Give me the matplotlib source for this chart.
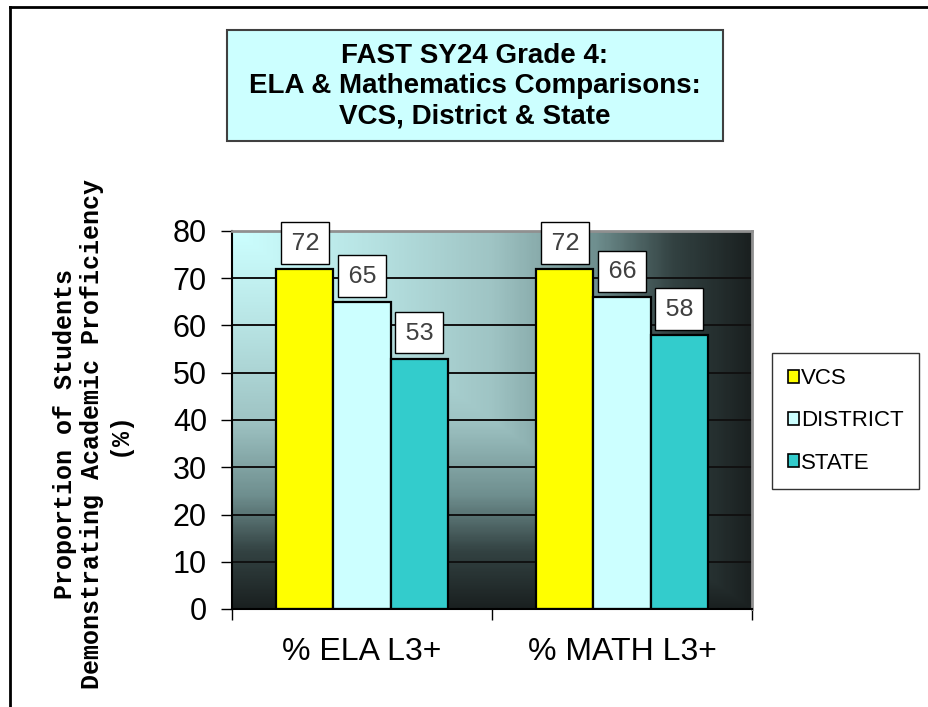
"""FAST SY24 Grade 4 comparison bars."""

import numpy as np
import matplotlib
matplotlib.use('Agg')
import matplotlib.pyplot as plt
from matplotlib.patches import Rectangle, Patch
from matplotlib.lines import Line2D
from matplotlib.colors import LinearSegmentedColormap

# =============================================================================
# Data
# =============================================================================
CATEGORIES = ['% ELA L3+', '% MATH L3+']
SERIES = ['VCS', 'DISTRICT', 'STATE']
VALUES = {
    'VCS': [72, 72],
    'DISTRICT': [65, 66],
    'STATE': [53, 58],
}
COLORS = {'VCS': '#ffff00', 'DISTRICT': '#ccffff', 'STATE': '#33cccc'}
YTICKS = [0, 10, 20, 30, 40, 50, 60, 70, 80]

TITLE = 'FAST SY24 Grade 4:\nELA & Mathematics Comparisons:\nVCS, District & State'
YLABEL = 'Proportion of Students\nDemonstrating Academic Proficiency\n(%)'

W, H = 929, 707

# =============================================================================
# Figure
# =============================================================================
fig = plt.figure(figsize=(W / 100, H / 100), dpi=100)
fig.patch.set_facecolor('white')

ax = fig.add_axes([232 / W, 1 - 609 / H, (752 - 232) / W, (609 - 231) / H])

# Corner gradient background (light top-left -> dark)
cmap = LinearSegmentedColormap.from_list('bg', [
    (0.0, '#ccffff'), (0.25, '#b8e4e4'), (0.5, '#9fc4c4'),
    (0.7, '#6f8f8f'), (0.85, '#334242'), (1.0, '#1a2020')])
u = np.linspace(0, 1, 300)
uu, ww = np.meshgrid(u, u)
t = np.maximum(uu, ww)
ax.imshow(t, cmap=cmap, extent=[0, 1, 0, 1], transform=ax.transAxes,
          aspect='auto', zorder=0, interpolation='bilinear')

# Gridlines
for y in YTICKS[1:]:
    ax.axhline(y, color='#111111', linewidth=1.4, zorder=1)

# Bars
x = np.arange(len(CATEGORIES))
width = 0.22
for i, name in enumerate(SERIES):
    xs = x + (i - 1) * width
    ax.bar(xs, VALUES[name], width=width, color=COLORS[name],
           edgecolor='black', linewidth=1.6, zorder=2)
    for xi, v in zip(xs, VALUES[name]):
        ax.annotate(str(v), xy=(xi, v), xytext=(0, 10), textcoords='offset points',
                    ha='center', va='bottom', fontsize=18, family='Liberation Mono',
                    color='#404040', zorder=4,
                    bbox=dict(boxstyle='square,pad=0.35', facecolor='white',
                              edgecolor='black', linewidth=1.0))

ax.set_xlim(-0.5, 1.5)
ax.set_ylim(0, 80)
ax.set_yticks(YTICKS)
ax.set_yticklabels([str(v) for v in YTICKS], fontsize=22, family='Liberation Sans')
ax.tick_params(axis='y', direction='out', length=8, width=1, pad=10, colors='black')
ax.set_xticks(x)
ax.set_xticklabels(CATEGORIES, fontsize=23, family='Liberation Sans')
ax.tick_params(axis='x', which='major', length=0, pad=20)
ax.set_xticks([-0.5, 0.5, 1.5], minor=True)
ax.tick_params(axis='x', which='minor', direction='out', length=8, width=1)

ax.spines['left'].set_color('black')
ax.spines['bottom'].set_color('black')
ax.spines['left'].set_linewidth(1.5)
ax.spines['bottom'].set_linewidth(1.5)
ax.spines['top'].set_color('#909090')
ax.spines['right'].set_color('#909090')
ax.spines['top'].set_linewidth(2)
ax.spines['right'].set_linewidth(2)

# Y label
fig.text(92 / W, 1 - 434 / H, YLABEL, rotation=90, ha='center', va='center',
         fontsize=18, family='Liberation Mono', fontweight='bold',
         multialignment='center', linespacing=1.15)

# Title box
fig.patches.append(Rectangle((227 / W, 1 - 141 / H), (723 - 227) / W, (141 - 30) / H,
                             transform=fig.transFigure, facecolor='#ccffff',
                             edgecolor='#404040', linewidth=1.5, zorder=1))
fig.text(475 / W, 1 - 86 / H, TITLE, ha='center', va='center', fontsize=20,
         family='Liberation Sans', fontweight='bold', linespacing=1.2, zorder=2)

# Legend
handles = [Patch(facecolor=COLORS[n], edgecolor='black', linewidth=1.2) for n in SERIES]
leg = fig.legend(handles, SERIES, loc='center left',
                 bbox_to_anchor=(772 / W, 1 - 421 / H), frameon=True, fancybox=False,
                 prop={'family': 'Liberation Sans', 'size': 16},
                 handlelength=0.5, handleheight=0.5, handletextpad=0.1,
                 labelspacing=0.95, borderpad=0.7, borderaxespad=0)
leg.get_frame().set_edgecolor('black')
leg.get_frame().set_linewidth(1.0)

# Page border (left and top)
fig.add_artist(Line2D([10 / W, 10 / W], [0, 1 - 7 / H], color='black', linewidth=2,
                      transform=fig.transFigure))
fig.add_artist(Line2D([10 / W, 1], [1 - 7 / H, 1 - 7 / H], color='black', linewidth=2,
                      transform=fig.transFigure))

fig.savefig('out.png', dpi=100)
